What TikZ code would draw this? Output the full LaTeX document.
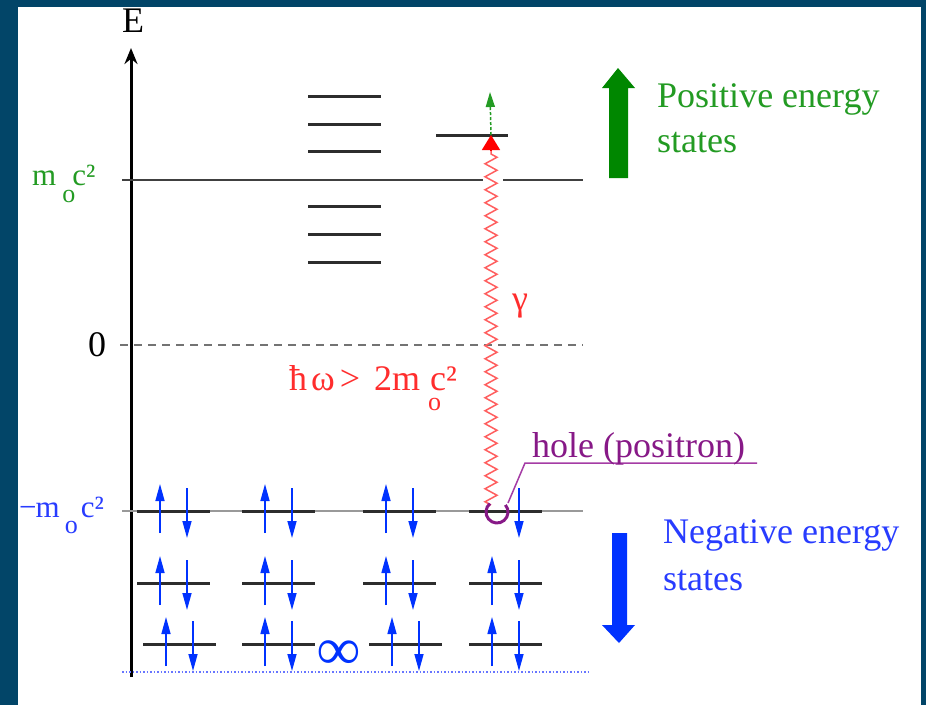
\documentclass[tikz,border=0pt]{standalone}
\usepackage{fontspec}
\setmainfont{Liberation Serif}
\usetikzlibrary{arrows.meta,decorations.pathmorphing}
\definecolor{frameblue}{RGB}{2,69,104}
\definecolor{lvl}{RGB}{45,45,45}
\definecolor{gtext}{RGB}{35,155,35}
\definecolor{garrow}{RGB}{0,135,0}
\definecolor{btext}{RGB}{40,60,255}
\definecolor{barrow}{RGB}{0,50,255}
\definecolor{rtext}{RGB}{255,45,45}
\definecolor{rwave}{RGB}{255,95,95}
\definecolor{ptext}{RGB}{135,25,135}
\definecolor{pline}{RGB}{165,60,165}
\newcommand{\subo}[1]{\raisebox{#1}{\fontsize{26}{26}\selectfont o}}
\begin{document}
\begin{tikzpicture}[x=1pt,y=-1pt,
  txt/.style={font=\fontsize{36}{45}\selectfont, inner sep=0pt},
  mtxt/.style={font=\fontsize{31}{36}\selectfont, inner sep=0pt},
  level/.style={draw=lvl, line width=3pt},
  spin/.style={draw=barrow, line width=1.5pt, -{Triangle[width=9pt,length=17pt]}},
  photon/.style={draw=rwave, line width=1.5pt, decorate,
    decoration={zigzag, segment length=13pt, amplitude=6pt}},
]
% frame
\fill[frameblue] (0,0) rectangle (926,705);
\fill[white] (18,7) rectangle (921,705);
\useasboundingbox (0,0) rectangle (926,705);

% axis
\coordinate (axb) at (131,677);
\coordinate (axt) at (131,48);
\draw[line width=3pt, -{Stealth[width=13pt,length=16pt]}] (axb) -- (axt);
\node[txt, anchor=base] (E) at (133,32) {E};

% m0c2 line (with gap for the photon)
\coordinate (mcL) at (122,180);
\coordinate (mcG1) at (483,180);
\coordinate (mcG2) at (503,180);
\coordinate (mcR) at (583,180);
\draw[draw=black!75, line width=2pt] (mcL) -- (mcG1) (mcG2) -- (mcR);
\node[mtxt, text=gtext, anchor=base west] (mcpos) at (32,185)
  {m\hspace{6pt}\subo{-17pt}\hspace{-3pt}c²};

% zero line
\coordinate (zL) at (120,345);
\coordinate (zR) at (583,345);
\draw[draw=black!55, line width=2pt, dash pattern=on 8pt off 6pt] (zL) -- (zR);
\node[txt, anchor=center] (zero) at (97,345) {0};

% -m0c2 line
\coordinate (nmL) at (122,511);
\coordinate (nmR) at (583,511);
\draw[draw=black!40, line width=1.5pt] (nmL) -- (nmR);
\node[mtxt, text=btext, anchor=base west] (mcneg) at (19,517)
  {−\hspace{-1pt}m\hspace{5pt}\subo{-16pt}\hspace{3pt}c²};

% bottom dotted line
\coordinate (dL) at (122,672);
\coordinate (dR) at (590,672);
\draw[draw=btext!70, line width=1.5pt, dotted] (dL) -- (dR);

% positive energy levels
\foreach \y [count=\i] in {96,124,151,206,234,262} {
  \coordinate (pl\i) at (308,\y);
  \coordinate (pr\i) at (381,\y);
  \draw[level] (pl\i) -- (pr\i);
}

% excited level
\coordinate (exL) at (436,135);
\coordinate (exR) at (508,135);
\draw[level] (exL) -- (exR);

% negative energy levels with spins
\foreach \r/\y/\xa/\xb/\xc/\xd in {1/511/137/242/363/469, 2/583/137/242/363/469, 3/644/143/242/369/469} {
  \foreach \x [count=\c] in {\xa,\xb,\xc,\xd} {
    \coordinate (a\r-\c) at (\x,\y);
    \coordinate (b\r-\c) at (\x+73,\y);
    \draw[level] (a\r-\c) -- (b\r-\c);
    \coordinate (ub\r-\c) at (\x+23,\y+22);
    \coordinate (ut\r-\c) at (\x+23,\y-27);
    \coordinate (dt\r-\c) at (\x+50,\y-23);
    \coordinate (db\r-\c) at (\x+50,\y+27);
    \draw[spin] (dt\r-\c) -- (db\r-\c);
    \pgfmathtruncatemacro{\skip}{(\r==1)&&(\c==4)}
    \ifnum\skip=0
      \draw[spin] (ub\r-\c) -- (ut\r-\c);
    \fi
  }
}

% infinity
\node[font=\fontsize{60}{60}\selectfont\bfseries, text=barrow, inner sep=0pt, anchor=center] (inf) at (339,655) {∞};

% photon
\coordinate (phb) at (491,505);
\coordinate (pht) at (491,150);
\coordinate (phtip) at (491,135);
\draw[photon] (phb) -- (pht);
\draw[draw=red, line width=1.5pt, -{Triangle[width=18pt,length=15pt]}] (pht) -- (phtip);
\node[txt, text=rtext, anchor=base west] (gamma) at (512,310) {γ};
\node[txt, text=rtext, anchor=base west] (hw) at (289,390)
  {ħ\hspace{4pt}ω\hspace{5pt}>\hspace{14pt}2m\hspace{8pt}\rlap{\subo{-20pt}}\hspace{2pt}c²};

% electron promoted
\coordinate (eup) at (490,92);
\draw[draw=gtext, line width=1.5pt, dash pattern=on 3pt off 2pt, -{Triangle[width=9pt,length=15pt]}] (phtip) -- (eup);

% hole
\coordinate (holec) at (497,512);
\draw[draw=ptext, line width=3pt] ([shift={(320:11)}]holec) arc[start angle=320, end angle=590, radius=11];
\coordinate (ld1) at (508,503);
\coordinate (ld2) at (525,463);
\coordinate (ld3) at (757,463);
\draw[draw=pline, line width=1.5pt] (ld1) -- (ld2) -- (ld3);
\node[txt, text=ptext, anchor=base west] (hole) at (532,457) {hole (positron)};

% big arrows
\coordinate (ga) at (618,68);
\fill[garrow] (609,178) -- (609,88) -- (602,88) -- (ga) -- (635,88) -- (628,88) -- (628,178) -- cycle;
\node[txt, text=gtext, anchor=base west, align=left] (pos) at (657,152) {Positive energy\\states};

\coordinate (ba) at (619,643);
\fill[barrow] (612,533) -- (612,625) -- (602,625) -- (ba) -- (635,625) -- (627,625) -- (627,533) -- cycle;
\node[txt, text=btext, anchor=base west, align=left, font=\fontsize{36}{47}\selectfont] (neg) at (663,590) {Negative energy\\states};
\end{tikzpicture}
\end{document}
